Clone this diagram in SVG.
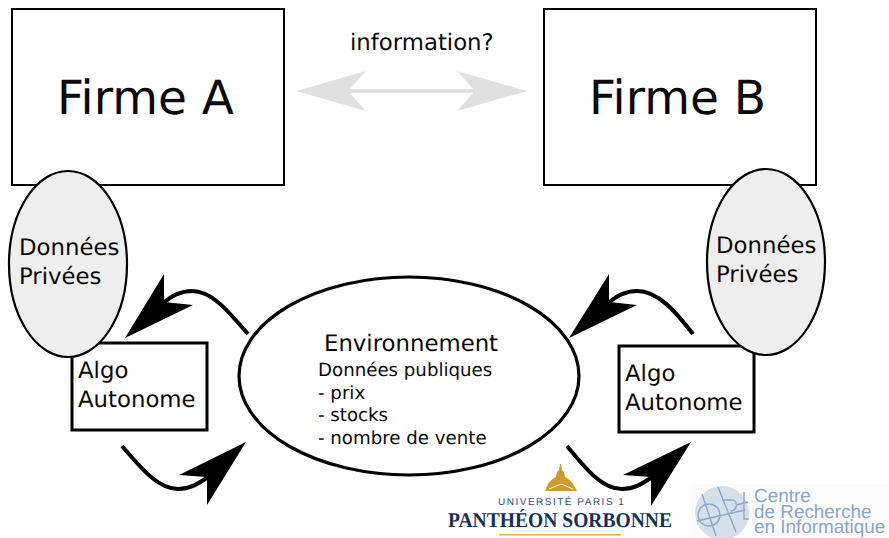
<svg xmlns="http://www.w3.org/2000/svg" width="889" height="538" viewBox="0 0 889 538">
<style>
text{font-family:"DejaVu Sans",sans-serif;fill:#0a0a0a;text-rendering:geometricPrecision}
.box{fill:#fff;stroke:#000;stroke-width:2}
.algo{fill:#fff;stroke:#000;stroke-width:3}
.priv{fill:#eee;stroke:#000;stroke-width:2.2}
.big{font-size:47px}
.mid{font-size:22.8px}
.small{font-size:18.2px}
.curve{fill:none;stroke:#000;stroke-width:4}
.head{fill:#000}
.cri{font-family:"Liberation Sans",sans-serif;font-size:18.9px;fill:#8ba6c9}
.cl{fill:none;stroke:#8fa8c8;stroke-width:1.4}
</style>
<rect width="889" height="538" fill="#fff"/>
<g id="firme-a"><rect class="box" x="12" y="9" width="272" height="176"/><text class="big" x="57" y="114">Firme A</text></g>
<g id="firme-b"><rect class="box" x="544" y="9" width="272" height="176"/><text class="big" x="589" y="114">Firme B</text></g>
<g id="algo-a"><rect class="algo" x="72" y="343" width="135" height="87"/><text class="mid" x="78" y="378">Algo</text><text class="mid" x="78" y="407">Autonome</text></g>
<g id="algo-b"><rect class="algo" x="619" y="346" width="135" height="86"/><text class="mid" x="625" y="381">Algo</text><text class="mid" x="625" y="410">Autonome</text></g>
<g id="donnees-a"><ellipse class="priv" cx="68" cy="264" rx="59" ry="93"/><text class="mid" x="19" y="255">Données</text><text class="mid" x="19" y="284">Privées</text></g>
<g id="donnees-b"><ellipse class="priv" cx="766" cy="262" rx="59" ry="93"/><text class="mid" x="716" y="253">Données</text><text class="mid" x="716" y="282">Privées</text></g>
<g id="environnement"><ellipse cx="409" cy="376" rx="170" ry="99" fill="#fff" stroke="#000" stroke-width="3.2"/>
<text class="mid" x="324" y="351">Environnement</text>
<text class="small" x="318" y="376">Données publiques</text>
<text class="small" x="318" y="399">- prix</text>
<text class="small" x="318" y="421">- stocks</text>
<text class="small" x="318" y="444">- nombre de vente</text></g>
<g id="information"><text x="350" y="50" style="font-size:22.8px">information?</text></g>
<g id="connectors">
<path d="M348 91H475" fill="none" stroke="#e0e0e0" stroke-width="4"/>
<path d="M296 91L366 71L348 91L366 111Z" fill="#e0e0e0"/>
<path d="M527 91L457 71L475 91L457 111Z" fill="#e0e0e0"/>
<path class="curve" d="M248 334C228 311 212 291 192 291C180 291 172 296 163 303"/>
<path class="head" d="M125 338L164 274L164 302L193 305Z"/>
<path class="curve" d="M122 446C142 469 158 489 178 489C190 489 198 484 208 477"/>
<path class="head" d="M246 442L179 475L207 477L207 505Z"/>
<path class="curve" d="M693 334C675 311 658 291 637 291C625 291 617 296 608 303"/>
<path class="head" d="M569 338L609 274L609 302L637 305Z"/>
<path class="curve" d="M567 446C586 469 602 489 622 489C634 489 642 484 652 477"/>
<path class="head" d="M691 442L623 475L651 477L651 506Z"/>
</g>
<g id="logo-sorbonne">
<path d="M545 491L577 491L573 484C571 481 569 479 565 477L564 472L562 470L561 464H560L559 470L557 472L556 477C552 479 550 481 548 484Z" fill="#d0992a"/>
<path d="M549 489L561 484L573 489" fill="none" stroke="#fff" stroke-width="1"/>
<text x="498" y="505" style="font-family:'Liberation Sans',sans-serif;font-size:10px;letter-spacing:1.5px;fill:#2d4a7c">UNIVERSITÉ PARIS 1</text>
<text x="448" y="527" textLength="224" lengthAdjust="spacingAndGlyphs" style="font-family:'Liberation Serif',serif;font-size:21px;font-weight:bold;fill:#14305f">PANTHÉON SORBONNE</text>
<rect x="499" y="534" width="122" height="1.5" fill="#d9b15c"/>
</g>
<g id="logo-cri">
<rect x="691" y="484" width="198" height="54" fill="#fbfbfc"/>
<circle cx="722" cy="513" r="27" fill="#d5dfea"/>
<circle cx="709" cy="515" r="11" class="cl"/>
<path class="cl" d="M702 494L716 536M697 521L745 510M718 487L736 532M722 500H732C738 500 738 510 731 511M744 492V519H749M736 505L748 502"/>
<text class="cri"><tspan x="754" y="502">Centre</tspan><tspan x="754" y="517.5">de Recherche</tspan><tspan x="754" y="533">en Informatique</tspan></text>
</g>
</svg>
